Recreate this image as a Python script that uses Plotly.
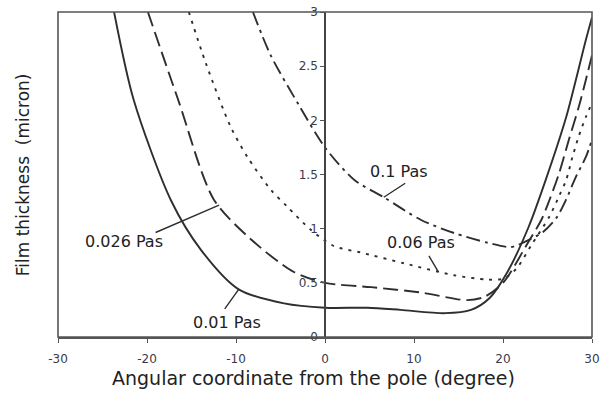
import numpy as np
import plotly.graph_objects as go

# Film thickness vs angular coordinate for four lubricant viscosities
x_001 = [-23.7, -21.5, -17.3, -13.9, -9.7, -4.6, 0, 4.8, 8.5, 13.5, 16.4, 18.5, 20.5, 22.9, 24.8, 27.1, 29.3, 30]
y_001 = [3.0, 2.19, 1.26, 0.80, 0.44, 0.31, 0.27, 0.27, 0.25, 0.22, 0.25, 0.36, 0.60, 1.02, 1.45, 2.03, 2.74, 2.95]

x_0026 = [-19.9, -16.5, -12.5, -8.3, -3.5, 0, 5.2, 10.8, 16, 17.9, 20, 22.8, 24.3, 25.2, 26.3, 27.4, 28.5, 29.3, 30]
y_0026 = [3.0, 2.19, 1.27, 0.90, 0.60, 0.50, 0.46, 0.41, 0.34, 0.37, 0.50, 0.87, 1.08, 1.26, 1.51, 1.82, 2.12, 2.37, 2.60]

x_006 = [-15.3, -13.4, -10.6, -8.7, -6.1, -4.2, -1.6, 1, 4, 8.9, 14.5, 18.3, 20.1, 21.5, 23.2, 25.2, 26.3, 27.1, 27.8, 28.5, 29.3, 30]
y_006 = [3.0, 2.53, 1.94, 1.66, 1.36, 1.20, 0.99, 0.84, 0.78, 0.68, 0.57, 0.53, 0.54, 0.63, 0.85, 1.11, 1.30, 1.45, 1.66, 1.85, 2.03, 2.16]

x_01 = [-8.1, -6.1, -3.0, 0, 3.3, 6.6, 10.8, 14.5, 18.3, 20.9, 22.5, 24.5, 26, 27.1, 28.2, 29.3, 30]
y_01 = [3.0, 2.60, 2.15, 1.75, 1.45, 1.29, 1.08, 0.96, 0.87, 0.83, 0.88, 0.97, 1.10, 1.27, 1.48, 1.66, 1.82]

x_ticks = [-30, -20, -10, 0, 10, 20, 30]
x_tick_text = ["-30", "-20", "-10", "0", "10", "20", "30"]
y_ticks = [0, 0.5, 1, 1.5, 2, 2.5, 3]
y_tick_text = ["0", "0.5", "1", "1.5", "2", "2.5", "3"]

labels = ["0.01 Pas", "0.026 Pas", "0.06 Pas", "0.1 Pas"]

LINE = "#2e2e2e"
AXIS = "#555555"
FONT = "DejaVu Sans"

series = [
    (x_001, y_001, "solid"),
    (x_0026, y_0026, "15px,6px"),
    (x_006, y_006, "3px,6px"),
    (x_01, y_01, "14px,5px,3px,5px"),
]

fig = go.Figure()
for (xs, ys, dash), name in zip(series, labels):
    fig.add_trace(go.Scatter(
        x=xs, y=ys, mode="lines", name=name,
        line=dict(color=LINE, width=1.9, dash=dash, shape="spline", smoothing=0.8),
        showlegend=False, hoverinfo="skip",
    ))


def on_curve(xs, ys, xv):
    return float(np.interp(xv, xs, ys))


# leader line tip on each curve (x in degrees), line start offset (px), label position (data)
callouts = [
    (x_001, y_001, -9.7, -15, 21, -11.0, 0.13, labels[0]),
    (x_0026, y_0026, -11.9, -65, 28, -22.6, 0.88, labels[1]),
    (x_006, y_006, 12.7, -10, -17, 10.8, 0.87, labels[2]),
    (x_01, y_01, 6.6, 23, -15, 8.3, 1.53, labels[3]),
]

annotations = []
for xs, ys, xv, ax, ay, tx, ty, text in callouts:
    annotations.append(dict(
        x=xv, y=on_curve(xs, ys, xv), xref="x", yref="y",
        ax=ax, ay=ay, text="", showarrow=True,
        arrowhead=0, arrowwidth=1.4, arrowcolor=LINE,
    ))
    annotations.append(dict(
        x=tx, y=ty, xref="x", yref="y", text=text, showarrow=False,
        font=dict(family=FONT, size=16, color="#222222"),
        xanchor="center", yanchor="middle",
    ))

# axis titles
annotations.append(dict(
    x=-0.066, y=0.5, xref="paper", yref="paper",
    text="Film thickness  (micron)", textangle=-90, showarrow=False,
    font=dict(family=FONT, size=17, color="#222222"),
    xanchor="center", yanchor="middle",
))
annotations.append(dict(
    x=0.479, y=-0.126, xref="paper", yref="paper",
    text="Angular coordinate from the pole (degree)", showarrow=False,
    font=dict(family=FONT, size=19, color="#222222"),
    xanchor="center", yanchor="middle",
))

fig.update_layout(
    width=605, height=394,
    margin=dict(l=58, r=13, t=12, b=57),
    paper_bgcolor="white", plot_bgcolor="white",
    annotations=annotations,
    shapes=[dict(type="rect", xref="paper", yref="paper", x0=0, y0=0, x1=1, y1=1,
                 line=dict(color=AXIS, width=1.6), layer="above")],
    xaxis=dict(
        range=[-30, 30], tickvals=x_ticks, ticktext=x_tick_text,
        ticks="outside", ticklen=4, ticklabelstandoff=6,
        tickcolor=AXIS, showgrid=False, zeroline=False,
        showline=True, linecolor=AXIS, linewidth=1.6,
        tickfont=dict(family=FONT, size=12, color="#3a3a4a"),
        automargin=False,
    ),
    yaxis=dict(
        range=[0, 3], tickvals=y_ticks, ticktext=y_tick_text,
        ticks="outside", ticklen=4, tickcolor=AXIS,
        showgrid=False, zeroline=False,
        showline=True, linecolor="#444444", linewidth=1.6,
        anchor="free", position=0.5, side="left",
        tickfont=dict(family=FONT, size=12, color="#3a3a4a"),
        automargin=False,
    ),
)

fig.write_html("out.html")
